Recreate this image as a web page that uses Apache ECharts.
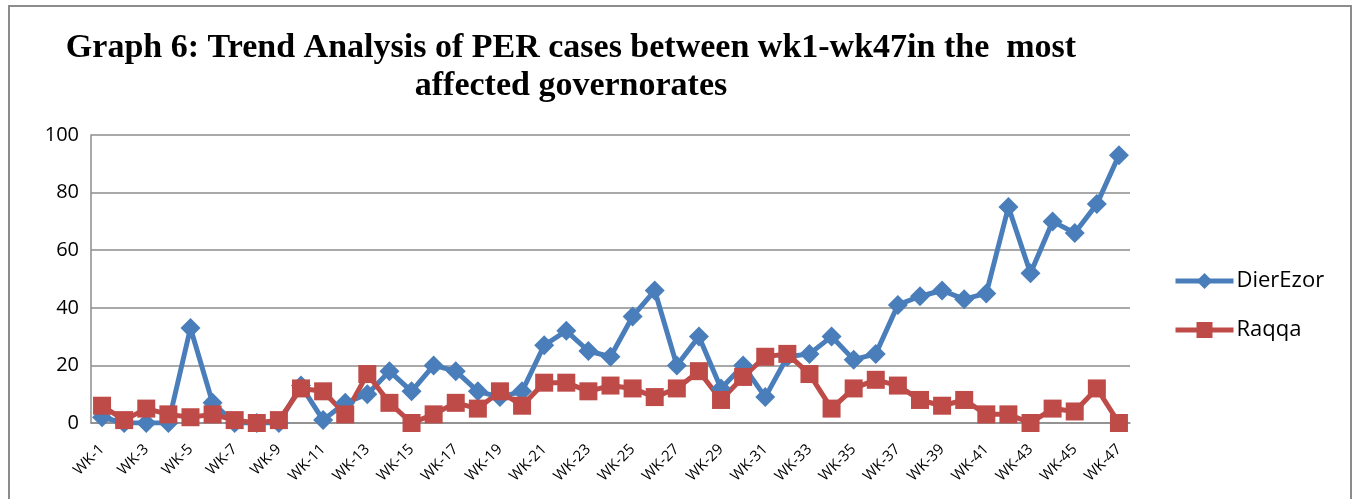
<!DOCTYPE html>
<html>
<head>
<meta charset="utf-8">
<script src="https://cdn.jsdelivr.net/npm/echarts@6/dist/echarts.min.js"></script>
<style>
  html, body { margin: 0; padding: 0; background: #fff; }
  #chart { position: absolute; left: 8px; top: 5px; width: 1344px; height: 500px; border: 2px solid #8c8c8c; box-sizing: border-box; }
</style>
</head>
<body>
<div id="chart"></div>
<script>
// week labels WK-1 .. WK-47
const weeks = [];
for (let i = 1; i <= 47; i++) weeks.push('WK-' + i);

// values
const dierEzor = [2, 0, 0, 0, 33, 7, 0, 0, 0, 13, 1, 7, 10, 18, 11, 20, 18, 11, 9, 11,
  27, 32, 25, 23, 37, 46, 20, 30, 12, 20, 9, 23, 24, 30, 22, 24, 41, 44, 46, 43,
  45, 75, 52, 70, 66, 76, 93];
const raqqa = [6, 1, 5, 3, 2, 3, 1, 0, 1, 12, 11, 3, 17, 7, 0, 3, 7, 5, 11, 6,
  14, 14, 11, 13, 12, 9, 12, 18, 8, 16, 23, 24, 17, 5, 12, 15, 13, 8, 6, 8,
  3, 3, 0, 5, 4, 12, 0];
const yTicks = [0, 20, 40, 60, 80, 100];

const chart = echarts.init(document.getElementById('chart'));

// chart div is offset by (8,5) plus 2px border
const ox = 10, oy = 7;

chart.setOption({
  animation: false,
  title: {
    text: 'Graph 6: Trend Analysis of PER cases between wk1-wk47in the  most\naffected governorates',
    left: 566 - ox,
    top: 24 - oy,
    textAlign: 'center',
    textStyle: {
      fontFamily: 'Liberation Serif',
      fontWeight: 'bold',
      fontSize: 34,
      lineHeight: 38,
      color: '#000'
    }
  },
  legend: {
    orient: 'vertical',
    left: 1168 - ox,
    top: 265 - oy,
    itemWidth: 58,
    itemHeight: 20,
    itemGap: 27,
    lineStyle: { width: 5 },
    textStyle: { fontFamily: 'Open Sans', fontSize: 22, lineHeight: 20, color: '#000', padding: [0, 0, 0, -2] },
    data: ['DierEzor', 'Raqqa']
  },
  grid: {
    left: 91 - ox,
    top: 135 - oy,
    right: 1352 - 1130 - 2,
    bottom: 504 - 422 - 2,
    containLabel: false
  },
  xAxis: {
    type: 'category',
    data: weeks,
    boundaryGap: true,
    axisLine: { lineStyle: { color: '#8c8c8c', width: 1.5 } },
    axisTick: { show: false },
    axisLabel: {
      interval: 1,
      rotate: 45,
      fontFamily: 'Open Sans',
      fontSize: 15,
      color: '#000',
      margin: 24
    }
  },
  yAxis: {
    type: 'value',
    min: yTicks[0],
    max: yTicks[yTicks.length - 1],
    interval: 20,
    axisLine: { show: true, lineStyle: { color: '#8c8c8c', width: 1.5 } },
    axisTick: { show: false },
    splitLine: { lineStyle: { color: '#8c8c8c', width: 1.5 } },
    axisLabel: { fontFamily: 'Open Sans', fontSize: 20, color: '#000', margin: 12 }
  },
  series: [
    {
      name: 'DierEzor',
      type: 'line',
      data: dierEzor,
      symbol: 'diamond',
      symbolSize: 20,
      showAllSymbol: true,
      lineStyle: { width: 5, color: '#4a7ebb' },
      itemStyle: { color: '#4a7ebb' }
    },
    {
      name: 'Raqqa',
      type: 'line',
      data: raqqa,
      symbol: 'rect',
      symbolSize: 18,
      showAllSymbol: true,
      lineStyle: { width: 5, color: '#be4b48' },
      itemStyle: { color: '#be4b48' }
    }
  ]
});
</script>
</body>
</html>
